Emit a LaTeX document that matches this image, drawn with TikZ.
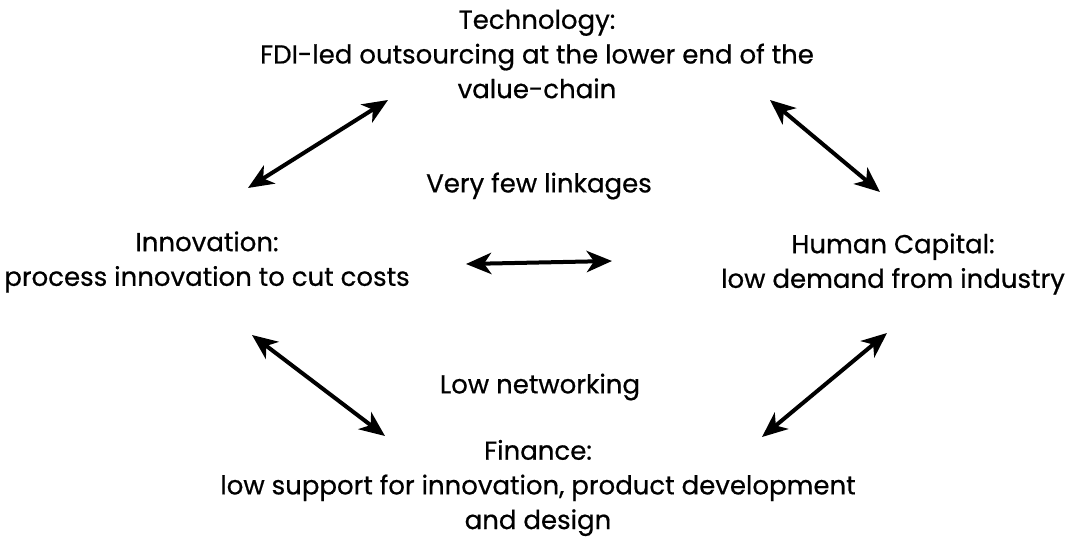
\documentclass[tikz,border=0pt]{standalone}
\usepackage{fontspec}
\setmainfont{Poppins}[BoldFont={Poppins},BoldFeatures={FakeBold=0.6}]
\usetikzlibrary{arrows.meta}
\tikzset{
  lbl/.style={align=center, inner sep=0pt, font=\fontsize{19.5}{26}\selectfont\bfseries},
  link/.style={{Stealth[length=19pt,width=16pt,inset=5.5pt]}-{Stealth[length=19pt,width=16pt,inset=5.5pt]}, line width=3pt}
}
\begin{document}
\begin{tikzpicture}[x=0.75pt, y=-0.75pt]
\useasboundingbox (0,0) rectangle (1067,541);
\node[lbl] (tech) at (537,54) {Technology:\\FDI-led outsourcing at the lower end of the\\value-chain};
\node[lbl] (innov) at (207,262) {Innovation:\\process innovation to cut costs};
\node[lbl] (human) at (893,264) {Human Capital:\\low demand from industry};
\node[lbl] (fin) at (538,488) {Finance:\\low support for innovation, product development\\and design};
\node[lbl] (few) at (539,186) {Very few linkages};
\node[lbl] (net) at (540,387) {Low networking};
\coordinate (tl1) at (248,188);
\coordinate (tl2) at (388,100);
\coordinate (tr1) at (770,100);
\coordinate (tr2) at (880,192);
\coordinate (mid1) at (466,264);
\coordinate (mid2) at (612,261);
\coordinate (bl1) at (252,335);
\coordinate (bl2) at (385,436);
\coordinate (br1) at (887,333);
\coordinate (br2) at (762,437);
\draw[link] (tl1) -- (tl2);
\draw[link] (tr1) -- (tr2);
\draw[link] (mid1) -- (mid2);
\draw[link] (bl1) -- (bl2);
\draw[link] (br1) -- (br2);
\end{tikzpicture}
\end{document}
